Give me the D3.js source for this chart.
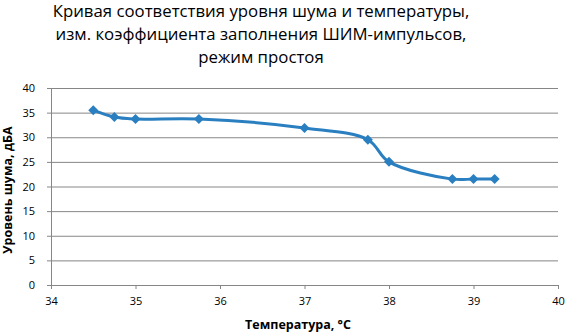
<!DOCTYPE html>
<html>
<head>
<meta charset="utf-8">
<script src="https://cdn.jsdelivr.net/npm/d3@7"></script>
<style>
  body { margin: 0; background: #fff; }
  svg { display: block; }
  .title { font-family: "Open Sans", "Noto Sans", sans-serif; fill: #000; }
  .label { font-family: "Open Sans", "Noto Sans", sans-serif; font-weight: bold; font-size: 12.5px; fill: #000; }
  .axis text { font-family: "Open Sans", "Noto Sans", sans-serif; font-size: 11px; fill: #000; }
  .axis path, .axis line { stroke: #868686; }
  .grid line { stroke: #868686; }
  .grid path { display: none; }
</style>
</head>
<body>
<svg width="565" height="332"></svg>
<script>
// temperature, degrees C
const temps = [34.5, 34.75, 35, 35.75, 37, 37.75, 38, 38.75, 39, 39.25];
// noise level, dBA
const noise = [35.5, 34.1, 33.7, 33.7, 31.9, 29.5, 25.0, 21.5, 21.5, 21.5];
const xTicks = [34, 35, 36, 37, 38, 39, 40];
const yTicks = [0, 5, 10, 15, 20, 25, 30, 35, 40];
const titleLines = [
  'Кривая соответствия уровня шума и температуры,',
  'изм. коэффициента  заполнения ШИМ-импульсов,',
  'режим простоя'
];

const svg = d3.select('svg');
const plotLeft = 51, plotRight = 558, plotTop = 88, plotBottom = 285;

const xScale = d3.scaleLinear().domain([34, 40]).range([plotLeft, plotRight]);
const yScale = d3.scaleLinear().domain([0, 40]).range([plotBottom, plotTop]);

// horizontal grid
svg.append('g')
  .attr('class', 'grid')
  .attr('transform', `translate(${plotLeft}, 0)`)
  .call(d3.axisLeft(yScale).tickValues(yTicks).tickSize(-(plotRight - plotLeft)).tickFormat(''));

svg.append('g')
  .attr('class', 'axis')
  .attr('transform', `translate(${plotLeft}, 0)`)
  .call(d3.axisLeft(yScale).tickValues(yTicks).tickSizeInner(4).tickSizeOuter(0).tickPadding(12));

svg.append('g')
  .attr('class', 'axis')
  .attr('transform', `translate(0, ${plotBottom})`)
  .call(d3.axisBottom(xScale).tickValues(xTicks).tickFormat(d3.format('d'))
    .tickSizeInner(4).tickSizeOuter(0).tickPadding(8));

const pts = temps.map((t, i) => [t, noise[i]]);

// smoothed line like the spreadsheet one
const line = d3.line()
  .x(d => xScale(d[0]))
  .y(d => yScale(d[1]))
  .curve(d3.curveCatmullRom.alpha(0.5));

svg.append('path')
  .datum(pts)
  .attr('fill', 'none')
  .attr('stroke', '#2a7fc1')
  .attr('stroke-width', 3)
  .attr('d', line);

svg.selectAll('.marker')
  .data(pts)
  .enter()
  .append('path')
  .attr('class', 'marker')
  .attr('d', d3.symbol(d3.symbolSquare, 50))
  .attr('transform', d => `translate(${xScale(d[0])}, ${yScale(d[1])}) rotate(45)`)
  .attr('fill', '#2a7fc1');

// title
const title = svg.append('text')
  .attr('class', 'title')
  .attr('text-anchor', 'middle')
  .attr('font-size', 16.8);
titleLines.forEach((t, i) => {
  title.append('tspan')
    .attr('x', 261)
    .attr('y', 17 + i * 23)
    .text(t);
});

svg.append('text')
  .attr('class', 'label')
  .attr('x', 298)
  .attr('y', 329)
  .attr('text-anchor', 'middle')
  .text('Температура, °С');

svg.append('text')
  .attr('class', 'label')
  .attr('transform', 'translate(12, 190) rotate(-90)')
  .attr('text-anchor', 'middle')
  .text('Уровень шума, дБА');
</script>
</body>
</html>
